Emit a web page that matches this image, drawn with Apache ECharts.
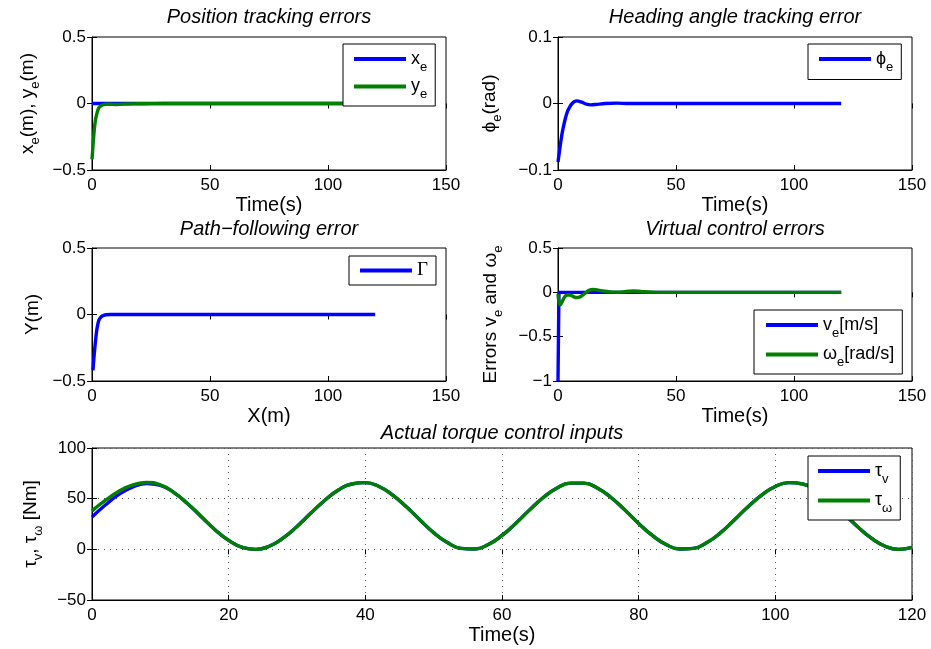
<!DOCTYPE html>
<html>
<head>
<meta charset="utf-8">
<script src="https://cdn.jsdelivr.net/npm/echarts@6/dist/echarts.min.js"></script>
<style>
  html, body { margin: 0; padding: 0; background: #fff; }
  #chart { width: 931px; height: 649px; }
</style>
</head>
<body>
<div id="chart"></div>
<script>
// ---- Position tracking errors ----
const posTime = [0, 0.5, 1, 1.5, 2, 2.5, 3, 4, 5, 6, 8, 10, 12, 15, 20, 25, 30, 40, 60, 80, 100, 120];
const xeVals  = [0, 0, 0, 0, 0, 0, 0, 0, 0, 0, 0, 0, 0, 0, 0, 0, 0, 0, 0, 0, 0, 0];
const yeVals  = [-0.42, -0.30, -0.19, -0.12, -0.08, -0.05, -0.03, -0.015, -0.008, -0.006, -0.006, -0.007, -0.006, -0.004, -0.002, -0.001, 0, 0, 0, 0, 0, 0];

// ---- Heading angle tracking error ----
const headTime = [0, 0.5, 1, 1.5, 2, 3, 4, 5, 6, 7, 8, 10, 12, 14, 16, 20, 25, 30, 40, 60, 80, 100, 120];
const phiVals  = [-0.088, -0.075, -0.062, -0.050, -0.040, -0.024, -0.012, -0.005, 0.000, 0.003, 0.004, 0.002, -0.001, -0.002, -0.0015, 0, 0.0005, 0, 0, 0, 0, 0, 0];

// ---- Path-following error ----
const pathX     = [0.4, 0.8, 1.2, 1.6, 2, 2.5, 3, 4, 5, 6, 8, 10, 20, 40, 60, 80, 100, 120];
const gammaVals = [-0.42, -0.33, -0.25, -0.18, -0.12, -0.07, -0.04, -0.015, -0.006, -0.002, 0, 0, 0, 0, 0, 0, 0, 0];

// ---- Virtual control errors ----
const veTime = [0, 0.4, 1, 2, 5, 10, 20, 40, 60, 80, 100, 120];
const veVals = [-1, 0, 0, 0, 0, 0, 0, 0, 0, 0, 0, 0];
const weTime = [0, 0.5, 1, 2, 3, 4, 5, 6, 7, 8, 9, 10, 11, 12, 13, 14, 15, 16, 18, 20, 22, 25, 28, 30, 32, 34, 36, 40, 45, 60, 80, 100, 120];
const weVals = [-0.02, -0.12, -0.14, -0.09, -0.045, -0.03, -0.03, -0.04, -0.053, -0.058, -0.055, -0.04, -0.02, 0.0, 0.02, 0.03, 0.033, 0.03, 0.02, 0.012, 0.005, 0.002, 0.006, 0.012, 0.015, 0.013, 0.008, 0.002, 0, 0, 0, 0, 0];

// ---- Actual torque control inputs ----
const torqueTime = [0, 2, 4, 6, 8, 10, 12, 14, 16, 18, 20, 22, 24, 26, 28, 30, 32, 34, 36, 38, 40,
  42, 44, 46, 48, 50, 52, 54, 56, 58, 60, 62, 64, 66, 68, 70, 72, 74, 76, 78, 80,
  82, 84, 86, 88, 90, 92, 94, 96, 98, 100, 102, 104, 106, 108, 110, 112, 114, 116, 118, 120];
const tauV = [32, 44, 54.5, 61.5, 65, 63.2, 56, 45, 32.2, 19.4, 8.8, 2, 0, 3.3, 11.2, 22.5, 35.5, 48, 58.3, 64.5, 65.8,
  62, 53.6, 42, 29, 16.5, 6.7, 1, 0.4, 4.8, 13.7, 25.6, 38.7, 50.9, 60.3, 65.3, 65.3, 60.3, 50.9, 38.7, 25.6,
  13.7, 4.8, 0.4, 1, 6.7, 16.5, 29, 42, 53.6, 62, 65.8, 64.5, 58.3, 48, 35.5, 22.5, 11.2, 3.3, 0, 2];
const tauW = [38, 48.5, 57.5, 63.5, 66, 63.6, 56, 45, 32.2, 19.4, 8.8, 2, 0, 3.3, 11.2, 22.5, 35.5, 48, 58.3, 64.5, 65.8,
  62, 53.6, 42, 29, 16.5, 6.7, 1, 0.4, 4.8, 13.7, 25.6, 38.7, 50.9, 60.3, 65.3, 65.3, 60.3, 50.9, 38.7, 25.6,
  13.7, 4.8, 0.4, 1, 6.7, 16.5, 29, 42, 53.6, 62, 65.8, 64.5, 58.3, 48, 35.5, 22.5, 11.2, 3.3, 0, 2];

// ---- drawing ----
const FONT = 'Liberation Sans';
const BLUE = '#0000ff';
const GREEN = '#008000';
const zip = (xs, ys) => xs.map((x, i) => [x, ys[i]]);
const minus = v => (v < 0 ? '\u2212' + String(Math.abs(+v.toFixed(6))) : String(+(+v).toFixed(6)));

const sub = { fontFamily: FONT, fontSize: 13, padding: [16, 0, 0, 0], color: '#000' };
const serif = { fontFamily: 'Liberation Serif', fontSize: 19, color: '#000' };
const richBase = { sub: sub, g: serif };

// plot rectangles [left, top, width, height]
const boxes = [
  [92, 37, 354, 133],
  [558, 37, 354, 133],
  [92, 248, 354, 133],
  [558, 248, 354, 133],
  [92, 448, 820, 152]
];

const xSpecs = [
  { min: 0, max: 150, interval: 50, name: 'Time(s)' },
  { min: 0, max: 150, interval: 50, name: 'Time(s)' },
  { min: 0, max: 150, interval: 50, name: 'X(m)' },
  { min: 0, max: 150, interval: 50, name: 'Time(s)' },
  { min: 0, max: 120, interval: 20, name: 'Time(s)', grid: true }
];
const ySpecs = [
  { min: -0.5, max: 0.5, interval: 0.5, name: 'x{sub|e}(m), y{sub|e}(m)', gap: 50 },
  { min: -0.1, max: 0.1, interval: 0.1, name: '\u03d5{sub|e}(rad)', gap: 54 },
  { min: -0.5, max: 0.5, interval: 0.5, name: 'Y(m)', gap: 50 },
  { min: -1, max: 0.5, interval: 0.5, name: 'Errors v{sub|e} and \u03c9{sub|e}', gap: 53 },
  { min: -50, max: 100, interval: 50, name: '\u03c4{sub|v}, \u03c4{sub|\u03c9} [Nm]', gap: 47, grid: true }
];

const grids = boxes.map(b => ({
  left: b[0], top: b[1], width: b[2], height: b[3],
  show: true, borderColor: '#000', borderWidth: 1, backgroundColor: '#fff'
}));

const dotted = { show: true, lineStyle: { color: '#555', width: 1, type: [1, 5] } };
const tick = { show: true, inside: true, length: 5, lineStyle: { color: '#000', width: 1 } };

const xAxes = [];
const yAxes = [];
xSpecs.forEach((s, i) => {
  xAxes.push({
    type: 'value', gridIndex: i, position: 'bottom', min: s.min, max: s.max, interval: s.interval,
    name: s.name, nameLocation: 'middle', nameGap: 25,
    nameTextStyle: { fontFamily: FONT, fontSize: 20, color: '#000' },
    axisLine: { show: true, onZero: false, lineStyle: { color: '#000', width: 1 } },
    axisTick: tick,
    axisLabel: { fontFamily: FONT, fontSize: 17, color: '#000', margin: 7, formatter: minus },
    splitLine: s.grid ? dotted : { show: false }
  });
  xAxes.push({
    type: 'value', gridIndex: i, position: 'top', min: s.min, max: s.max, interval: s.interval,
    axisLine: { show: false }, axisTick: tick, axisLabel: { show: false }, splitLine: { show: false }
  });
});
ySpecs.forEach((s, i) => {
  yAxes.push({
    type: 'value', gridIndex: i, position: 'left', min: s.min, max: s.max, interval: s.interval,
    name: s.name, nameLocation: 'middle', nameGap: s.gap, nameRotate: 90,
    nameTextStyle: { fontFamily: FONT, fontSize: 19, color: '#000', rich: richBase },
    axisLine: { show: true, onZero: false, lineStyle: { color: '#000', width: 1 } },
    axisTick: tick,
    axisLabel: { fontFamily: FONT, fontSize: 17, color: '#000', margin: 6, formatter: minus },
    splitLine: s.grid ? dotted : { show: false }
  });
  yAxes.push({
    type: 'value', gridIndex: i, position: 'right', min: s.min, max: s.max, interval: s.interval,
    axisLine: { show: false }, axisTick: tick, axisLabel: { show: false }, splitLine: { show: false }
  });
});

function line(name, g, data, color, smooth) {
  return {
    name: name, type: 'line', xAxisIndex: g * 2, yAxisIndex: g * 2,
    data: data, symbol: 'none', smooth: smooth, color: color,
    lineStyle: { color: color, width: 3.4 }, z: color === GREEN ? 3 : 2
  };
}

const series = [
  line('x_e', 0, zip(posTime, xeVals), BLUE, false),
  line('y_e', 0, zip(posTime, yeVals), GREEN, 0.3),
  line('phi_e', 1, zip(headTime, phiVals), BLUE, 0.3),
  line('Gamma', 2, zip(pathX, gammaVals), BLUE, 0.3),
  line('v_e', 3, zip(veTime, veVals), BLUE, false),
  line('omega_e', 3, zip(weTime, weVals), GREEN, 0.4),
  line('tau_v', 4, zip(torqueTime, tauV), BLUE, true),
  line('tau_w', 4, zip(torqueTime, tauW), GREEN, true)
];

const legendText = {
  x_e: 'x{sub|e}', y_e: 'y{sub|e}', phi_e: '\u03d5{sub|e}', Gamma: '{g|\u0393}',
  v_e: 'v{sub|e}[m/s]', omega_e: '\u03c9{sub|e}[rad/s]', tau_v: '\u03c4{sub|v}', tau_w: '\u03c4{sub|\u03c9}'
};

function legend(names, left, top, padding, gap) {
  return {
    data: names, orient: 'vertical', left: left, top: top, padding: padding, itemGap: gap,
    icon: 'rect', itemWidth: 52, itemHeight: 4,
    backgroundColor: '#fff', borderColor: '#000', borderWidth: 1, borderRadius: 0,
    selectedMode: false, inactiveColor: '#000',
    textStyle: { fontFamily: FONT, fontSize: 18, color: '#000', rich: richBase },
    formatter: n => legendText[n]
  };
}

const titleStyle = { fontFamily: FONT, fontSize: 20, fontStyle: 'italic', fontWeight: 'normal', color: '#000' };
function title(text, cx, top) {
  return { text: text, left: cx, top: top, textAlign: 'center', padding: 0, textStyle: titleStyle };
}

const option = {
  backgroundColor: '#fff',
  animation: false,
  title: [
    title('Position tracking errors', 269, 7),
    title('Heading angle tracking error', 735, 7),
    title('Path\u2212following error', 269, 219),
    title('Virtual control errors', 735, 219),
    title('Actual torque control inputs', 502, 423)
  ],
  legend: [
    legend(['x_e', 'y_e'], 343, 44, [6, 8, 5, 11], 4),
    legend(['phi_e'], 808, 44, [6, 8, 6, 11], 0),
    legend(['Gamma'], 349, 256, [5, 8, 5, 11], 0),
    legend(['v_e', 'omega_e'], 754, 310, [6, 8, 5, 12], 6),
    legend(['tau_v', 'tau_w'], 808, 456, [6, 8, 5, 10], 6)
  ],
  grid: grids,
  xAxis: xAxes,
  yAxis: yAxes,
  series: series
};

const chart = echarts.init(document.getElementById('chart'), null, { renderer: 'canvas' });
chart.setOption(option);
</script>
</body>
</html>
